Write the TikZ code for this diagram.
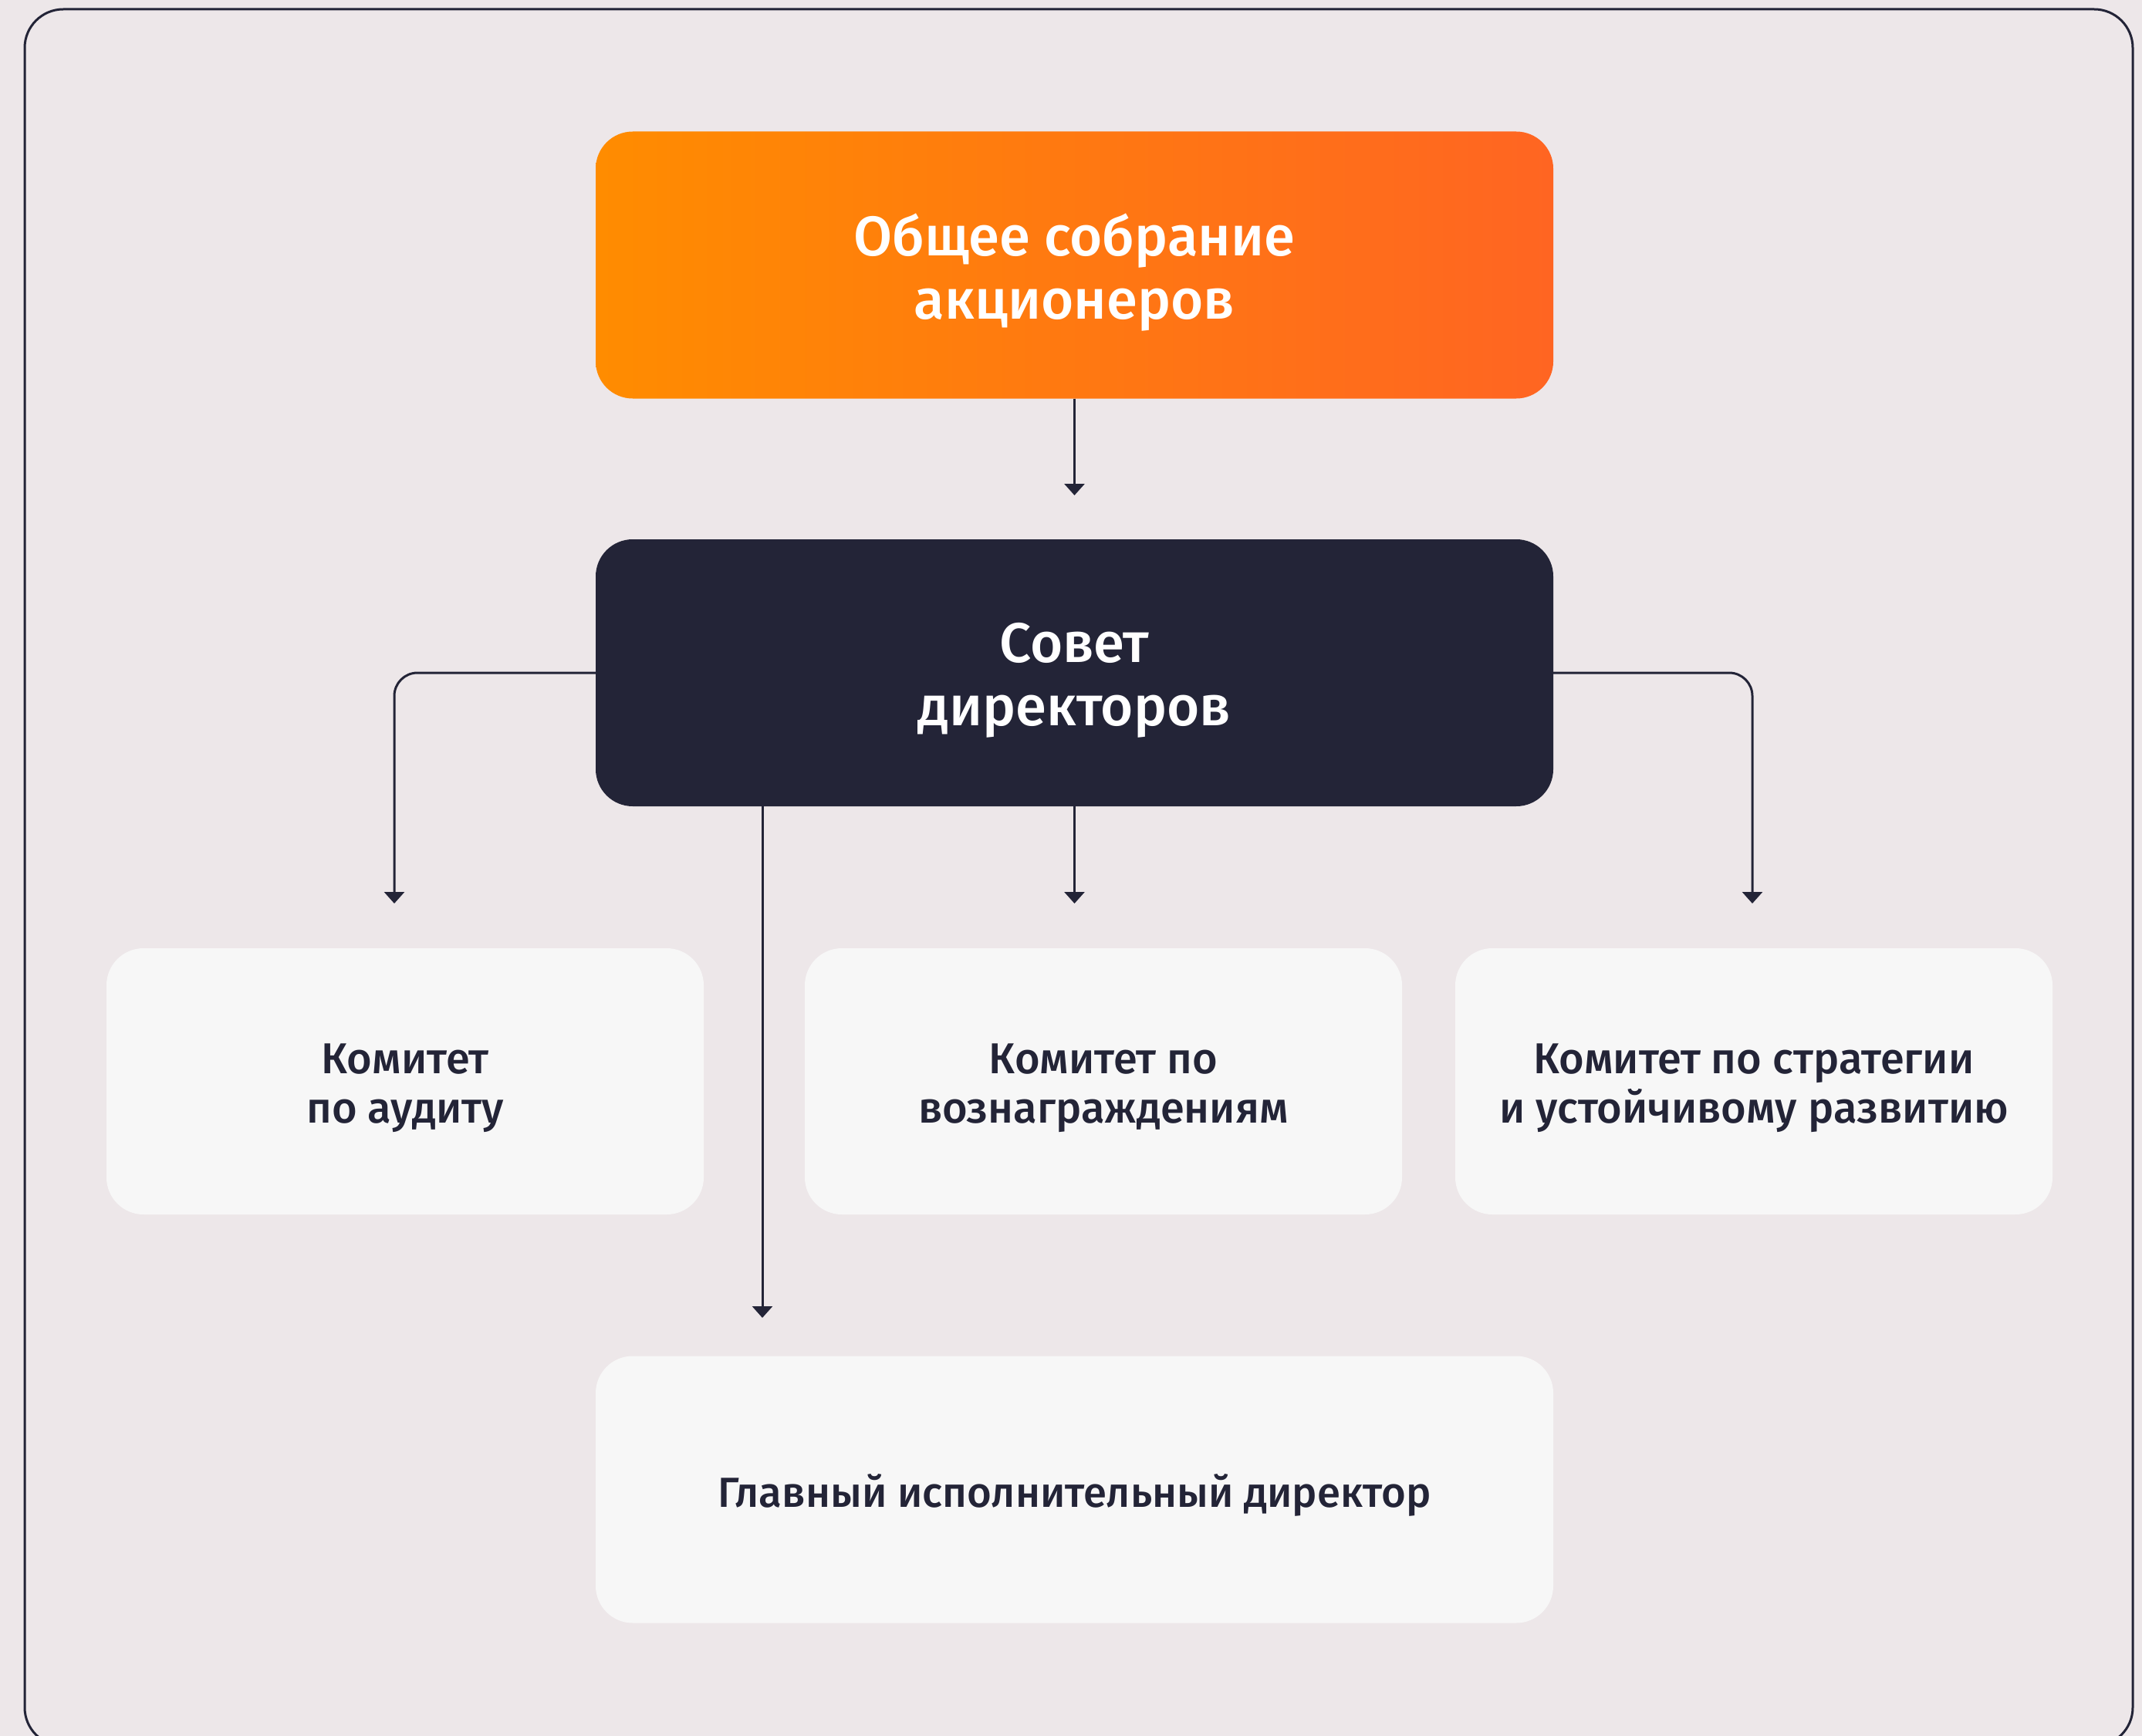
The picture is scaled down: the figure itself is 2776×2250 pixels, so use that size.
\documentclass[tikz,border=0pt]{standalone}
\usepackage{fontspec}
\setmainfont{Fira Sans}
\newfontfamily\mf{Fira Sans}[UprightFont={* Medium}]
\usetikzlibrary{arrows.meta}
\definecolor{bg}{HTML}{EDE7E9}
\definecolor{ink}{HTML}{232437}
\definecolor{orA}{HTML}{FF8C00}
\definecolor{orB}{HTML}{FF6522}
\definecolor{card}{HTML}{F7F7F7}
\tikzset{
  wide/.style={rectangle, rounded corners=48pt, inner sep=0pt, minimum width=1241pt, minimum height=346pt},
  cardbox/.style={rectangle, rounded corners=48pt, inner sep=0pt, fill=card, minimum width=774pt, minimum height=345pt},
  bigtext/.style={font=\mf\fontsize{72.5}{82}\selectfont, text=white, align=center, inner sep=0pt, yshift=-10pt},
  smalltext/.style={font=\mf\fontsize{56}{64}\selectfont, text=ink, align=center, inner sep=0pt, yshift=-9pt},
  conn/.style={draw=ink, line width=3pt, -{Triangle[width=26pt,length=15pt]}},
}
\begin{document}
\begin{tikzpicture}[x=1pt,y=-1pt]
\useasboundingbox (0,0) rectangle (2776,2250);
\fill[bg] (0,0) rectangle (2776,2250);
\draw[ink, line width=3pt, rounded corners=50pt] (32,12) rectangle (2764,2263);

\node[wide, left color=orA, right color=orB] (gsm) at (1392.5,343.5) {};
\node[wide, fill=ink] (bod) at (1392.5,872) {};
\node[cardbox] (audit) at (525,1401.5) {};
\node[cardbox] (remun) at (1430,1401.5) {};
\node[cardbox] (strat) at (2273,1401.5) {};
\node[wide, fill=card] (ceo) at (1392.5,1930.5) {};

\node[bigtext] (gsmT) at (gsm.center) {Общее собрание\\акционеров};
\node[bigtext] (bodT) at (bod.center) {Совет\\директоров};
\node[smalltext] (auditT) at (audit.center) {Комитет\\по аудиту};
\node[smalltext] (remunT) at (remun.center) {Комитет по\\вознаграждениям};
\node[smalltext] (stratT) at (strat.center) {Комитет по стратегии\\и устойчивому развитию};
\node[smalltext, font=\mf\fontsize{54.5}{64}\selectfont, yshift=2pt] (ceoT) at (ceo.center) {Главный исполнительный директор};

\coordinate (t0) at (1392.5,642);
\coordinate (t1) at (511,1171);
\coordinate (t2) at (1392.5,1171);
\coordinate (t3) at (2271,1171);
\coordinate (t4) at (988,1708);

\draw[conn] (gsm.south) -- (t0);
\draw[conn, rounded corners=30pt] (bod.west) -| (t1);
\draw[conn, rounded corners=30pt] (bod.east) -| (t3);
\draw[conn] (bod.south) -- (t2);
\draw[conn] (bod.south -| t4) -- (t4);
\end{tikzpicture}
\end{document}
